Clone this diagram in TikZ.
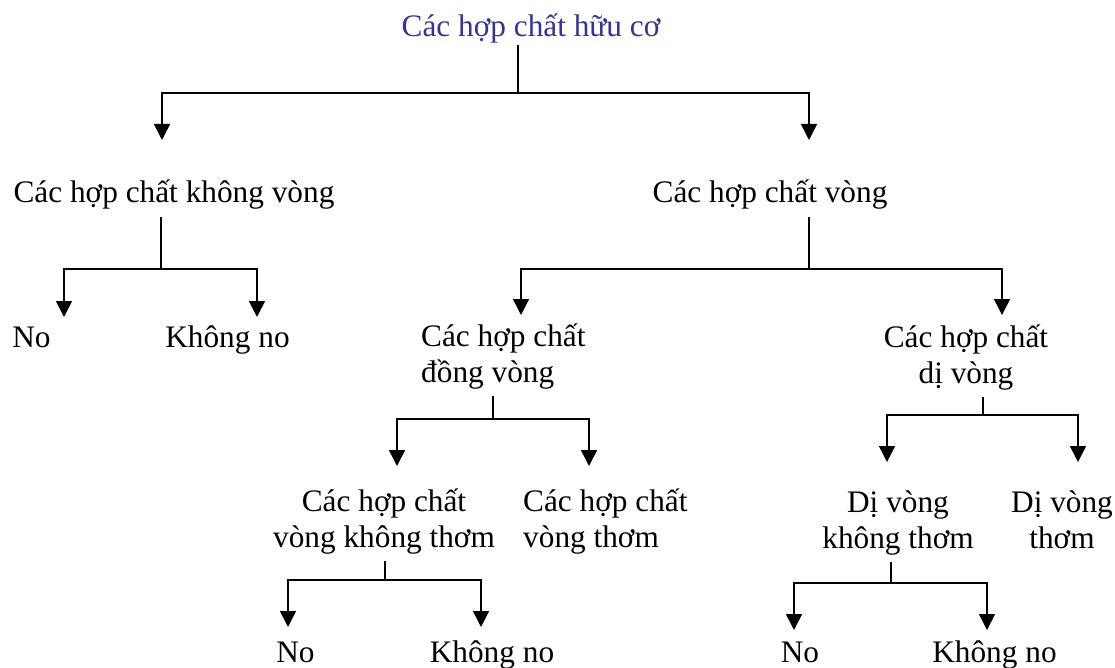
\documentclass[tikz,border=0pt]{standalone}
\usepackage{fontspec}
\setmainfont{Liberation Serif}
\usepackage{xcolor}
\usepackage{tikz}
\usetikzlibrary{arrows.meta, calc}
\definecolor{titleblue}{HTML}{333399}

\begin{document}
\begin{tikzpicture}[x=1pt, y=-1pt,
    lbl/.style={anchor=base, inner sep=7pt, font=\fontsize{31.3}{35.5}\selectfont},
    edge/.style={line width=1.6pt},
    arr/.style={edge, -{Triangle[width=16pt, length=16pt]}}]
  \useasboundingbox (0,0) rectangle (1115,668);

  \node[lbl, text=titleblue, inner sep=1pt] (root) at (531,37) {Các hợp chất hữu cơ};
  \node[lbl] (acyc) at (174,203) {Các hợp chất không vòng};
  \node[lbl] (cyc) at (770,203) {Các hợp chất vòng};
  \node[lbl] (acycNo) at (31.5,347) {No};
  \node[lbl] (acycKno) at (227.5,347) {Không no};
  \node[lbl, anchor=base west, align=left] (homo) at (414,382) {Các hợp chất\\đồng vòng};
  \node[lbl, align=center] (hetero) at (966,383) {Các hợp chất\\dị vòng};
  \node[lbl, align=center] (homoNon) at (384,547) {Các hợp chất\\vòng không thơm};
  \node[lbl, anchor=base west, align=left] (homoAro) at (516,547) {Các hợp chất\\vòng thơm};
  \node[lbl, align=center] (hetNon) at (898,548) {Dị vòng\\không thơm};
  \node[lbl, align=center] (hetAro) at (1062,548) {Dị vòng\\thơm};
  \node[lbl] (hnNo) at (295.5,662) {No};
  \node[lbl] (hnKno) at (492,662) {Không no};
  \node[lbl] (htNo) at (800,662) {No};
  \node[lbl] (htKno) at (994.5,662) {Không no};

  \coordinate (root-j) at (518,93);
  \coordinate (acyc-tip) at (162,140);
  \coordinate (cyc-tip) at (809,140);
  \coordinate (acyc-j) at (161,269);
  \coordinate (acycNo-tip) at (64,317);
  \coordinate (acycKno-tip) at (257,317);
  \coordinate (cyc-j) at (809,269);
  \coordinate (homo-tip) at (521,315);
  \coordinate (hetero-tip) at (1002,315);
  \coordinate (homo-j) at (493,419);
  \coordinate (homoNon-tip) at (397,466);
  \coordinate (homoAro-tip) at (589,466);
  \coordinate (hetero-j) at (983,415);
  \coordinate (hetNon-tip) at (887,462);
  \coordinate (hetAro-tip) at (1078,462);
  \coordinate (homoNon-j) at (385,580);
  \coordinate (hnNo-tip) at (288,627);
  \coordinate (hnKno-tip) at (481,627);
  \coordinate (hetNon-j) at (891,583);
  \coordinate (htNo-tip) at (794,630);
  \coordinate (htKno-tip) at (987,630);

  \draw[edge] (root.south -| root-j) -- (root-j);
  \draw[arr] (root-j) -| (acyc-tip);
  \draw[arr] (root-j) -| (cyc-tip);

  \draw[edge] (acyc.south -| acyc-j) -- (acyc-j);
  \draw[arr] (acyc-j) -| (acycNo-tip);
  \draw[arr] (acyc-j) -| (acycKno-tip);

  \draw[edge] (cyc.south -| cyc-j) -- (cyc-j);
  \draw[arr] (cyc-j) -| (homo-tip);
  \draw[arr] (cyc-j) -| (hetero-tip);

  \draw[edge] (homo.south -| homo-j) -- (homo-j);
  \draw[arr] (homo-j) -| (homoNon-tip);
  \draw[arr] (homo-j) -| (homoAro-tip);

  \draw[edge] (hetero.south -| hetero-j) -- (hetero-j);
  \draw[arr] (hetero-j) -| (hetNon-tip);
  \draw[arr] (hetero-j) -| (hetAro-tip);

  \draw[edge] (homoNon.south -| homoNon-j) -- (homoNon-j);
  \draw[arr] (homoNon-j) -| (hnNo-tip);
  \draw[arr] (homoNon-j) -| (hnKno-tip);

  \draw[edge] (hetNon.south -| hetNon-j) -- (hetNon-j);
  \draw[arr] (hetNon-j) -| (htNo-tip);
  \draw[arr] (hetNon-j) -| (htKno-tip);
\end{tikzpicture}
\end{document}
